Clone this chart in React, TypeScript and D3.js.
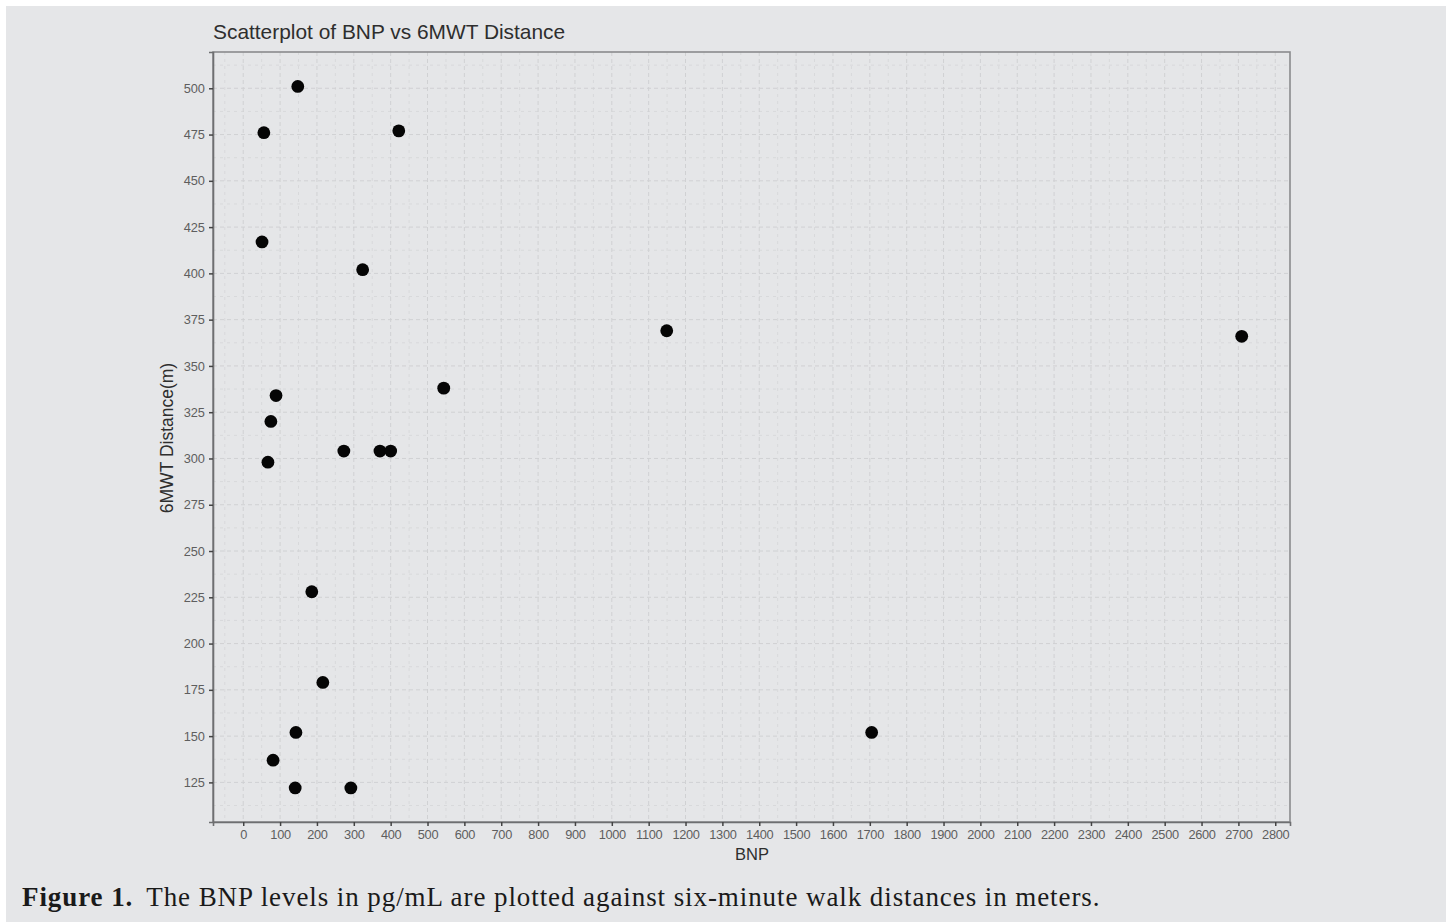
import React, { useEffect, useRef } from 'react';
import * as d3 from 'd3';

// BNP (pg/mL) and 6MWT distance (m)
const bnp = [148, 56, 422, 51, 324, 1149, 2709, 544, 89, 75, 67, 273, 371, 400, 186, 216, 143, 81, 141, 292, 1705];
const walk = [501, 476, 477, 417, 402, 369, 366, 338, 334, 320, 298, 304, 304, 304, 228, 179, 152, 137, 122, 122, 152];

const xTicks = d3.range(0, 2801, 100);
const yTicks = d3.range(125, 501, 25);

const title = 'Scatterplot of BNP vs 6MWT Distance';
const xLabel = 'BNP';
const yLabel = '6MWT Distance(m)';

export default function App() {
  const ref = useRef<SVGSVGElement>(null);

  useEffect(() => {
    const svg = d3.select(ref.current);
    svg.selectAll('*').remove();

    const W = 1451, H = 922;
    const panel = { left: 213, top: 52, right: 1290, bottom: 822 };
    const sans = '"Liberation Sans", Arial, sans-serif';

    svg.append('rect').attr('x', 6).attr('y', 6).attr('width', 1440).attr('height', H - 6).attr('fill', '#e5e6e8');

    // ggplot-style 5% expansion
    const xs = d3.scaleLinear().domain([-82, 2840]).range([panel.left, panel.right]);
    const ys = d3.scaleLinear().domain([103.6, 519.6]).range([panel.bottom, panel.top]);

    const g = svg.append('g');

    // minor grid
    const xMinor = xTicks.map(d => d - 50).concat([2850]).filter(d => xs(d) > panel.left && xs(d) < panel.right);
    const yMinor = yTicks.map(d => d - 12.5).concat([512.5]).filter(d => ys(d) < panel.bottom && ys(d) > panel.top);
    g.selectAll('.xminor').data(xMinor).join('line')
      .attr('x1', d => xs(d)).attr('x2', d => xs(d)).attr('y1', panel.top).attr('y2', panel.bottom)
      .attr('stroke', '#d8d9db').attr('stroke-width', 1).attr('stroke-dasharray', '3,4');
    g.selectAll('.yminor').data(yMinor).join('line')
      .attr('y1', d => ys(d)).attr('y2', d => ys(d)).attr('x1', panel.left).attr('x2', panel.right)
      .attr('stroke', '#d8d9db').attr('stroke-width', 1).attr('stroke-dasharray', '3,4');

    // major grid
    g.selectAll('.xmajor').data(xTicks).join('line')
      .attr('x1', d => xs(d)).attr('x2', d => xs(d)).attr('y1', panel.top).attr('y2', panel.bottom)
      .attr('stroke', '#d0d1d3').attr('stroke-width', 1).attr('stroke-dasharray', '4,3');
    g.selectAll('.ymajor').data(yTicks).join('line')
      .attr('y1', d => ys(d)).attr('y2', d => ys(d)).attr('x1', panel.left).attr('x2', panel.right)
      .attr('stroke', '#d0d1d3').attr('stroke-width', 1).attr('stroke-dasharray', '4,3');

    // panel border
    svg.append('rect')
      .attr('x', panel.left).attr('y', panel.top)
      .attr('width', panel.right - panel.left).attr('height', panel.bottom - panel.top)
      .attr('fill', 'none').attr('stroke', '#8a8b8d').attr('stroke-width', 1.6);

    // axes
    const xAxis = svg.append('g')
      .attr('transform', `translate(0, ${panel.bottom})`)
      .call(d3.axisBottom(xs).tickValues(xTicks).tickSize(4).tickPadding(4).tickFormat(d3.format('d')));
    const yAxis = svg.append('g')
      .attr('transform', `translate(${panel.left}, 0)`)
      .call(d3.axisLeft(ys).tickValues(yTicks).tickSize(4).tickPadding(4).tickFormat(d3.format('d')));

    [xAxis, yAxis].forEach(ax => {
      ax.select('.domain').attr('stroke', '#6e6f71').attr('stroke-width', 1.6);
      ax.selectAll('.tick line').attr('stroke', '#444').attr('stroke-width', 1.5);
      ax.selectAll('.tick text')
        .attr('fill', '#5e5e5e')
        .style('font-family', sans)
        .style('font-size', '12.8px');
    });
    xAxis.selectAll('.tick text').style('letter-spacing', '-0.3px');

    // points
    svg.append('g').selectAll('circle')
      .data(bnp.map((b, i) => [b, walk[i]]))
      .join('circle')
      .attr('cx', d => xs(d[0]))
      .attr('cy', d => ys(d[1]))
      .attr('r', 6.4)
      .attr('fill', '#050505');

    svg.append('text')
      .attr('x', 213).attr('y', 39)
      .text(title)
      .attr('fill', '#2e2e2e')
      .style('font-family', sans)
      .style('font-size', '20.9px');

    svg.append('text')
      .attr('x', 752).attr('y', 860)
      .attr('text-anchor', 'middle')
      .text(xLabel)
      .attr('fill', '#2e2e2e')
      .style('font-family', sans)
      .style('font-size', '16.5px');

    svg.append('text')
      .attr('transform', `translate(173, 438) rotate(-90)`)
      .attr('text-anchor', 'middle')
      .text(yLabel)
      .attr('fill', '#2e2e2e')
      .style('font-family', sans)
      .style('font-size', '17.5px');

    // caption
    const cap = svg.append('text')
      .attr('x', 22).attr('y', 906)
      .attr('fill', '#1a1a1a')
      .style('font-family', '"Liberation Serif", "Times New Roman", serif')
      .style('font-size', '27px')
      .style('letter-spacing', '0.92px');
    cap.append('tspan').attr('font-weight', 'bold').text('Figure 1.');
    cap.append('tspan').attr('dx', 13).text('The BNP levels in pg/mL are plotted against six-minute walk distances in meters.');

    svg.attr('width', W).attr('height', H);
  }, []);

  return (
    <svg ref={ref} width={1451} height={922} style={{ position: 'absolute', left: 0, top: 0, background: '#fff' }} />
  );
}
